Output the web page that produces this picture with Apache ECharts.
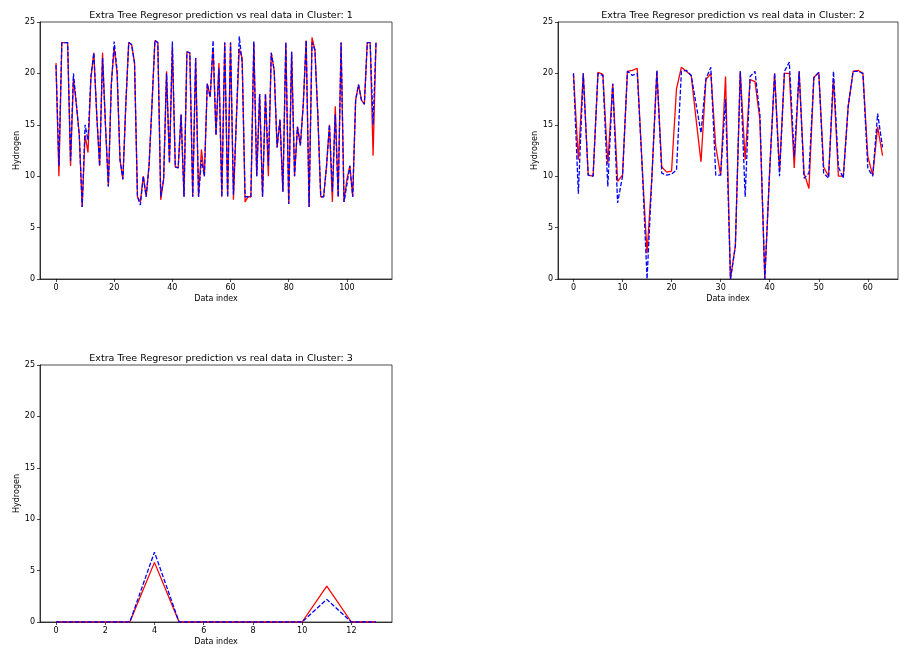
<!DOCTYPE html>
<html>
<head>
<meta charset="utf-8">
<script src="https://cdn.jsdelivr.net/npm/echarts@6/dist/echarts.min.js"></script>
<style>html,body{margin:0;padding:0;background:#fff}#c{width:900px;height:651px}</style>
</head>
<body>
<div id="c"></div>
<script>
// ---- Data ----
const titles = [
  "Extra Tree Regresor prediction vs real data in Cluster: 1",
  "Extra Tree Regresor prediction vs real data in Cluster: 2",
  "Extra Tree Regresor prediction vs real data in Cluster: 3"
];
const xTicks1 = [0, 20, 40, 60, 80, 100];
const xTicks2 = [0, 10, 20, 30, 40, 50, 60];
const xTicks3 = [0, 2, 4, 6, 8, 10, 12];

const real1 = [21,10,23,23,23,11,19.5,17,14,7,14,12.3,19.5,22,16,11,22,15,9,19,
  22.5,20,11.6,9.7,17,23,22.8,21,8,7.5,10,8,11.1,17,23.2,23,7.7,9.7,20.2,11.3,
  22.5,10.9,10.8,16,8,22.1,22,8,21.5,8,12.6,10,19,17.7,22.5,14,21,8,23,8,
  23,7.7,15.5,22.4,21.5,7.5,8,8,23,10,18,8,18,10,22,20.3,12.8,15.5,8.5,23,
  7.3,22.1,10,14.8,13,17,23.2,7,23.5,22.3,16,8,8,11,15,7.5,16.8,8,23,7.5,
  9.7,11,8,17.4,18.9,17.4,17,23,23,12,23];
const pred1 = [20.8,11,23,23,23,11.5,20,17,14,7,15,13.5,19.7,22,16,11,21.5,15,9,18.7,
  23.1,20.3,11.6,9.7,17,23,22.8,21,8,7.2,10,8,11.1,17,23.2,23,8,9.7,20,11.3,
  23.1,10.9,10.8,16,8,22.1,22,8,21.5,8,11.6,10,19,17.7,23.2,14,20.5,8,23,8,
  23,8.2,15.5,23.6,21,8,8,8,23.1,10,18,8,18,11,22,20.3,12.8,15.5,8.5,23,
  7.3,22.1,10,14.8,13,17,23.2,7,23,22.3,16,8,8,11,15,8.5,16,8,23,7.5,
  9.2,11,8,17.4,18.9,17.4,17,23,23,15,23];

const real2 = [20,11.6,20,10.1,10,20.1,19.9,11.2,19,9.5,10.1,20.2,20.3,20.5,11,2.5,10,20.2,10.9,10.4,
  10.5,18.5,20.6,20.2,19.8,15.5,11.4,19.4,20,12.9,10.1,19.7,0,3.2,20.2,11.6,19.4,19.2,15.5,0,
  10.6,20,10.5,20,20,10.8,20.2,10.3,8.8,19.6,20.1,10.9,10,19.5,10,10,16.8,20.2,20.3,20,
  11.9,10.1,14.8,12];
const pred2 = [20,8.3,20,10.1,10,20,19.8,9,19,7.4,10,20.2,19.8,20,11,0,10,20.3,10.3,10.1,
  10.2,10.6,20.2,20.3,19.8,17,14.2,19.5,20.6,10.1,10.1,17.5,0,3.2,20.2,8,19.7,20.2,16,0,
  10.6,20,10,20.2,21.1,11.9,20.2,9.8,10.3,19.6,20.1,10.3,9.8,20.2,10.9,9.8,16.8,20.2,20.2,20,
  10.8,10,16.1,12.8];

const real3 = [0,0,0,0,5.8,0,0,0,0,0,0,3.5,0,0];
const pred3 = [0,0,0,0,6.8,0,0,0,0,0,0,2.2,0,0];

// ---- Chart ----
const FONT = 'DejaVu Sans';
const grids = [
  {left: 40, top: 22, width: 352, height: 257},
  {left: 558, top: 22, width: 340, height: 257},
  {left: 40, top: 365, width: 352, height: 257}
];
const xRanges = [
  [-5.5, 115.5, xTicks1],
  [-3.15, 66.15, xTicks2],
  [-0.65, 13.65, xTicks3]
];
const pairs = (arr) => arr.map((v, i) => [i, v]);

const option = {
  animation: false,
  backgroundColor: '#fff',
  textStyle: {fontFamily: FONT},
  title: grids.map((g, k) => ({
    text: titles[k],
    left: g.left + g.width / 2,
    top: g.top - 16,
    textAlign: 'center',
    textStyle: {fontFamily: FONT, fontSize: 9.5, fontWeight: 'normal', color: '#000'}
  })),
  grid: grids.map(g => Object.assign({show: true, borderColor: '#000', borderWidth: 0.7, backgroundColor: 'transparent'}, g)),
  xAxis: xRanges.map((r, k) => ({
    type: 'value', gridIndex: k, min: r[0], max: r[1],
    name: 'Data index', nameLocation: 'middle', nameGap: 16,
    nameTextStyle: {fontFamily: FONT, fontSize: 8, color: '#000'},
    axisLine: {show: true, onZero: false, lineStyle: {color: '#000', width: 0.7}},
    axisTick: {show: true, inside: false, length: 3, customValues: r[2], lineStyle: {color: '#000', width: 0.7}},
    axisLabel: {customValues: r[2], fontFamily: FONT, fontSize: 8, color: '#000', margin: 5},
    splitLine: {show: false}
  })),
  yAxis: grids.map((g, k) => ({
    type: 'value', gridIndex: k, min: 0, max: 25, interval: 5,
    name: 'Hydrogen', nameLocation: 'middle', nameGap: 19, nameRotate: 90,
    nameTextStyle: {fontFamily: FONT, fontSize: 8, color: '#000'},
    axisLine: {show: true, onZero: false, lineStyle: {color: '#000', width: 0.7}},
    axisTick: {show: true, inside: false, length: 3, lineStyle: {color: '#000', width: 0.7}},
    axisLabel: {fontFamily: FONT, fontSize: 8, color: '#000', margin: 5},
    splitLine: {show: false}
  })),
  series: []
};
const reals = [real1, real2, real3];
const preds = [pred1, pred2, pred3];
for (let k = 0; k < 3; k++) {
  option.series.push({
    type: 'line', xAxisIndex: k, yAxisIndex: k, data: pairs(reals[k]),
    showSymbol: false, symbol: 'none', clip: true,
    lineStyle: {color: '#ff0000', width: 1.3}
  });
  option.series.push({
    type: 'line', xAxisIndex: k, yAxisIndex: k, data: pairs(preds[k]),
    showSymbol: false, symbol: 'none', clip: true,
    lineStyle: {color: '#0000ff', width: 1.3, type: [4.4, 1.9]}
  });
}
const chart = echarts.init(document.getElementById('c'), null, {renderer: 'canvas'});
chart.setOption(option);
</script>
</body>
</html>
